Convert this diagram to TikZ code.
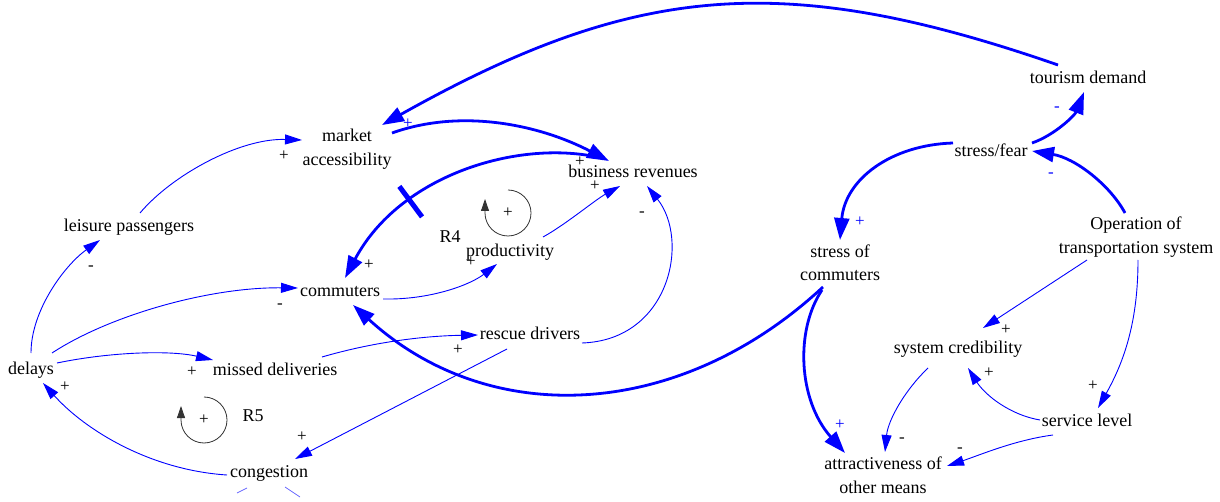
\documentclass[tikz,border=0pt]{standalone}
\usepackage{fontspec}
\setmainfont{Liberation Serif}
\usetikzlibrary{arrows.meta,decorations.markings}
\begin{document}
\begin{tikzpicture}[x=1pt,y=-1pt,
  var/.style={font=\fontsize{18}{23.5}\selectfont, text=black, inner sep=1pt,
              text height=12.5pt, text depth=4pt},
  var2/.style={font=\fontsize{18}{23.5}\selectfont, text=black, inner sep=1pt, align=center},
  pol/.style={font=\fontsize{17}{20}\selectfont, inner sep=0pt, text=black,
              text height=9pt, text depth=0pt},
  bpol/.style={pol, text=blue},
  thin link/.style={draw=blue, line width=0.9pt, -{Triangle[length=17pt,width=10pt]}},
  thick link/.style={draw=blue, line width=2.8pt, -{Triangle[length=22pt,width=15pt]}},
  loop arrow/.style={draw=black!80, line width=0.8pt, -{Triangle[length=12pt,width=8pt]}},
  delay mark/.style={postaction={decorate},
    decoration={markings, mark=at position #1 with {\draw[blue, line width=5pt, -] (0pt,-19pt) -- (0pt,19pt);}}}
]
\useasboundingbox (0,0) rectangle (1220,502);

% variables
\node[var2] (ma)  at (347,149)  {market\\accessibility};
\node[var]  (br)  at (633,173)  {business revenues};
\node[var]  (lp)  at (129,227)  {leisure passengers};
\node[var]  (pr)  at (510,252)  {productivity};
\node[var]  (cm)  at (340,292)  {commuters};
\node[var]  (rd)  at (530,335)  {rescue drivers};
\node[var]  (dl)  at (31,370)   {delays};
\node[var]  (md)  at (275,371)  {missed deliveries};
\node[var]  (cg)  at (269,473)  {congestion};
\node[var]  (td)  at (1088,79)  {tourism demand};
\node[var]  (sf)  at (991,152)  {stress/fear};
\node[var2] (sc)  at (840,263)  {stress of\\commuters};
\node[var2] (op)  at (1136,237) {Operation of\\transportation system};
\node[var]  (scr) at (958,349)  {system credibility};
\node[var]  (sl)  at (1087,422) {service level};
\node[var2] (at)  at (883,475)  {attractiveness of\\other means};

% strong links
\draw[thick link] ([shift={(-30,-14)}]td.center) .. controls (784,-30) and (635,-17) .. ([shift={(35,-24)}]ma.center);
\draw[thick link] ([shift={(45,-16)}]ma.center) .. controls (462,108) and (540,125) .. ([shift={(-24,-12)}]br.center);
\draw[thick link, delay mark=0.66] ([shift={(-36,-16)}]br.center) .. controls (517,140) and (400,175) .. ([shift={(5,-14)}]cm.center);
\draw[thick link] ([shift={(-17,24)}]sc.center) .. controls (680,420) and (490,430) .. ([shift={(13,13)}]cm.center);
\draw[thick link] ([shift={(41,-9)}]sf.center) .. controls (1055,135) and (1075,115) .. ([shift={(-4,13)}]td.center);
\draw[thick link] ([shift={(-11,-24)}]op.center) .. controls (1110,185) and (1075,158) .. ([shift={(41,-1)}]sf.center);
\draw[thick link] ([shift={(-38,-9)}]sf.center) .. controls (890,145) and (845,180) .. ([shift={(0,-23)}]sc.center);
\draw[thick link] ([shift={(-18,27)}]sc.center) .. controls (795,330) and (798,400) .. ([shift={(-38,-22)}]at.center);

% ordinary links
\draw[thin link] ([shift={(0,-17)}]dl.center) .. controls (31,310) and (65,265) .. ([shift={(-29,13)}]lp.center);
\draw[thin link] ([shift={(11,-14)}]lp.center) .. controls (172,175) and (240,138) .. ([shift={(-45,-9)}]ma.center);
\draw[thin link] ([shift={(21,-17)}]dl.center) .. controls (110,315) and (210,287) .. ([shift={(-42,-4)}]cm.center);
\draw[thin link] ([shift={(43,7)}]cm.center) .. controls (430,300) and (470,285) .. ([shift={(-13,12)}]pr.center);
\draw[thin link] ([shift={(33,-15)}]pr.center) .. controls (565,225) and (595,200) .. ([shift={(-13,13)}]br.center);
\draw[thin link] ([shift={(52,8)}]rd.center) .. controls (670,340) and (690,240) .. ([shift={(14,13)}]br.center);
\draw[thin link] ([shift={(26,-7)}]dl.center) .. controls (110,352) and (170,350) .. ([shift={(-62,-11)}]md.center);
\draw[thin link] ([shift={(47,-14)}]md.center) .. controls (370,343) and (420,336) .. ([shift={(-52,0)}]rd.center);
\draw[thin link] ([shift={(-23,14)}]rd.center) -- ([shift={(26,-14)}]cg.center);
\draw[thin link] ([shift={(-42,2)}]cg.center) .. controls (150,470) and (85,430) .. ([shift={(12,13)}]dl.center);
\draw[thin link] ([shift={(-49,23)}]op.center) -- ([shift={(25,-21)}]scr.center);
\draw[thin link] ([shift={(2,23)}]op.center) .. controls (1138,320) and (1125,360) .. ([shift={(11,-14)}]sl.center);
\draw[thin link] ([shift={(-47,-2)}]sl.center) .. controls (1010,415) and (985,395) .. ([shift={(10,19)}]scr.center);
\draw[thin link] ([shift={(-30,19)}]scr.center) .. controls (905,390) and (888,420) .. ([shift={(2,-23)}]at.center);
\draw[thin link] ([shift={(-34,13)}]sl.center) .. controls (1015,440) and (980,455) .. ([shift={(64,-9)}]at.center);

% stubs leaving congestion at the bottom edge
\draw[blue!60, line width=0.8pt] ([shift={(-32,20)}]cg.center) -- ([shift={(-22,15)}]cg.center);
\draw[blue!60, line width=0.8pt] ([shift={(16,14)}]cg.center) -- ([shift={(31,24)}]cg.center);

% polarities
\node[bpol] (p1)  at (408,124)  {+};
\node[bpol] (p2)  at (860,222)  {+};
\node[bpol] (p3)  at (840,425)  {+};
\node[bpol] (p4)  at (1057,107) {-};
\node[bpol] (p5)  at (1051,173) {-};
\node[pol]  (p6)  at (284,156)  {+};
\node[pol]  (p7)  at (91,266)   {-};
\node[pol]  (p8)  at (369,265)  {+};
\node[pol]  (p9)  at (280,304)  {-};
\node[pol]  (p10) at (580,162)  {+};
\node[pol]  (p11) at (595,186)  {+};
\node[pol]  (p12) at (471,262)  {+};
\node[pol]  (p13) at (642,212)  {-};
\node[pol]  (p14) at (192,372)  {+};
\node[pol]  (p15) at (458,350)  {+};
\node[pol]  (p16) at (302,437)  {+};
\node[pol]  (p17) at (65,387)   {+};
\node[pol]  (p18) at (1006,330) {+};
\node[pol]  (p19) at (989,373)  {+};
\node[pol]  (p20) at (1093,386) {+};
\node[pol]  (p21) at (902,438)  {-};
\node[pol]  (p22) at (960,448)  {-};

% reinforcing loop markers
\node[pol] (r4s) at (508,213) {+};
\draw[loop arrow] ([shift={(0,-23)}]r4s.center) arc[start angle=90, end angle=-180, radius=23pt] -- ++(0,-14);
\node[var] (r4) at (450,238) {R4};
\node[pol] (r5s) at (204,420) {+};
\draw[loop arrow] ([shift={(0,-23)}]r5s.center) arc[start angle=90, end angle=-180, radius=23pt] -- ++(0,-14);
\node[var] (r5) at (253,417) {R5};
\end{tikzpicture}
\end{document}
